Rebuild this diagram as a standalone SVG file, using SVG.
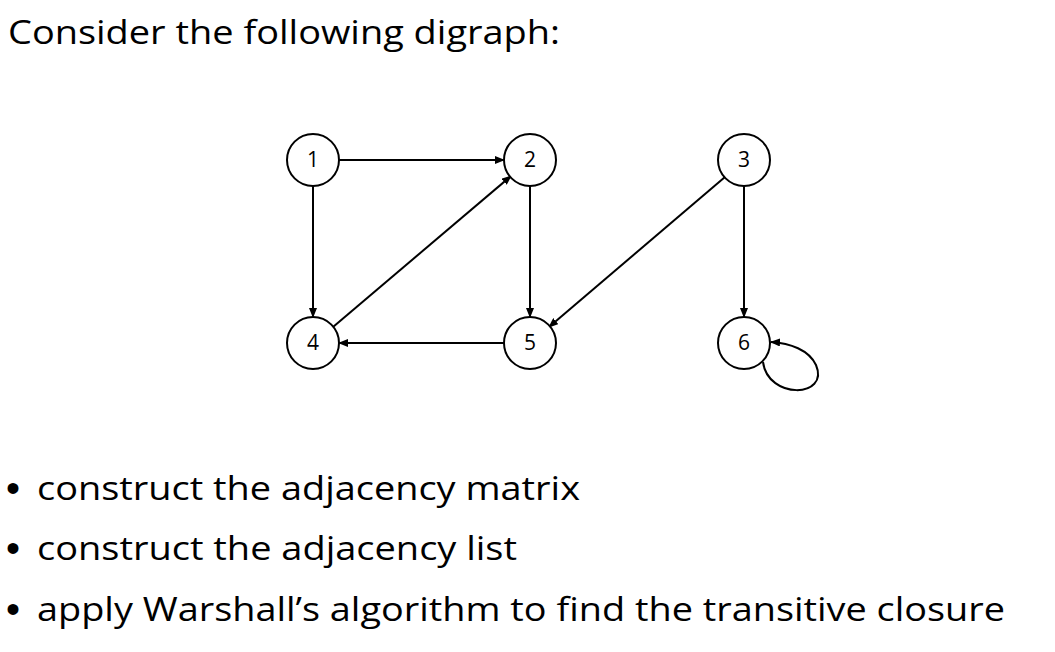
<svg xmlns="http://www.w3.org/2000/svg" width="1055" height="652" viewBox="0 0 1055 652">
<style>
.n circle{fill:#fff;stroke:#000;stroke-width:2}
.lbl{font-family:"Open Sans","Liberation Sans",sans-serif;font-size:21px;text-anchor:middle;fill:#000}
.e{stroke:#000;stroke-width:2;fill:none;marker-end:url(#a)}
.t{font-family:"Open Sans","Liberation Sans",sans-serif;font-size:32px;fill:#000}
.b{font-family:"Liberation Sans",sans-serif;font-size:40px;fill:#000}
</style>
<defs><marker id="a" markerWidth="10" markerHeight="8" refX="9" refY="4" orient="auto" markerUnits="userSpaceOnUse"><path d="M0,0 L10,4 L0,8 z"/></marker></defs>
<rect width="1055" height="652" fill="#fff"/>
<text class="t" x="8" y="44" textLength="552" lengthAdjust="spacingAndGlyphs">Consider the following digraph:</text>
<g id="edges">
<path class="e" d="M339,160 L504,160"/>
<path class="e" d="M313,186 L313,317"/>
<path class="e" d="M333,327 L511,176"/>
<path class="e" d="M530,186 L530,317"/>
<path class="e" d="M725,177 L549,327"/>
<path class="e" d="M744,186 L744,317"/>
<path class="e" d="M504,343 L339,343"/>
<path class="e" d="M763,362 C768,400 830,398 816,365 C809,350 790,343 771,342"/>
</g>
<g id="n1" class="n"><circle cx="313" cy="160" r="26"/><text class="lbl" x="313" y="167">1</text></g>
<g id="n2" class="n"><circle cx="530" cy="160" r="26"/><text class="lbl" x="530" y="167">2</text></g>
<g id="n3" class="n"><circle cx="744" cy="160" r="26"/><text class="lbl" x="744" y="167">3</text></g>
<g id="n4" class="n"><circle cx="313" cy="343" r="26"/><text class="lbl" x="313" y="350">4</text></g>
<g id="n5" class="n"><circle cx="530" cy="343" r="26"/><text class="lbl" x="530" y="350">5</text></g>
<g id="n6" class="n"><circle cx="744" cy="343" r="26"/><text class="lbl" x="744" y="350">6</text></g>
<text class="b" x="6" y="502">•</text><text class="t" x="37" y="500" textLength="543" lengthAdjust="spacingAndGlyphs">construct the adjacency matrix</text>
<text class="b" x="6" y="562">•</text><text class="t" x="37" y="560" textLength="480" lengthAdjust="spacingAndGlyphs">construct the adjacency list</text>
<text class="b" x="6" y="623">•</text><text class="t" x="37" y="621" textLength="968" lengthAdjust="spacingAndGlyphs">apply Warshall’s algorithm to find the transitive closure</text>
</svg>
